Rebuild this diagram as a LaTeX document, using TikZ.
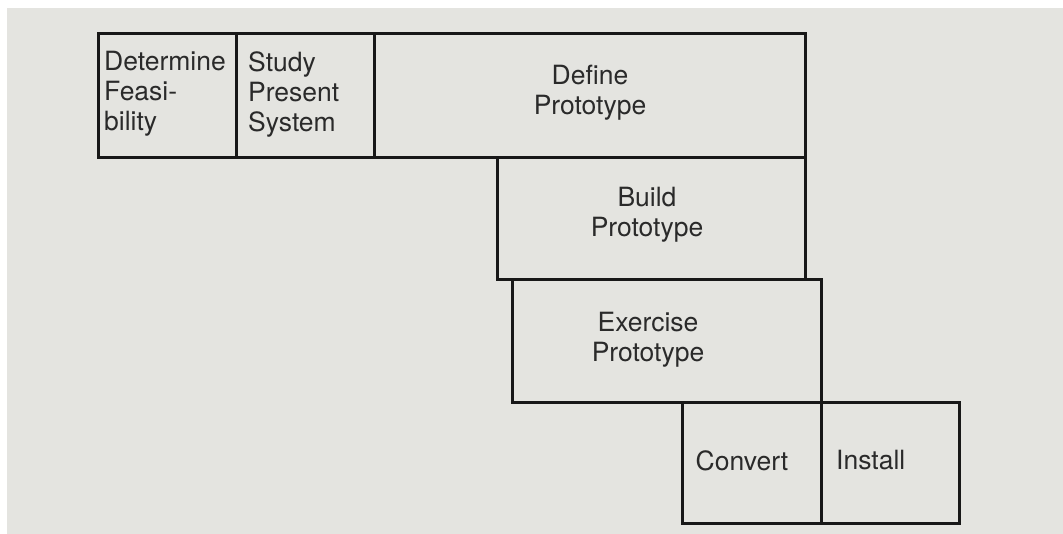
\documentclass[tikz,border=0pt]{standalone}
\usepackage{fontspec}
\setmainfont{TeX Gyre Heros}
\definecolor{paper}{HTML}{E4E4E0}
\definecolor{ink}{HTML}{181818}
\definecolor{txtc}{HTML}{2A2A2A}
\tikzset{
  box/.style={draw=ink, line width=3pt, rectangle, inner sep=0pt, anchor=north west},
  txt/.style={text=txtc, inner sep=0pt, font=\fontsize{26.5}{30}\selectfont}
}
\begin{document}
\begin{tikzpicture}[x=1pt,y=-1pt]
\useasboundingbox (0,0) rectangle (1063,534);
\fill[white] (0,0) rectangle (1063,534);
\fill[paper] (7,8) rectangle (1063,534);
% boxes
\node[box, minimum width=138pt, minimum height=124pt] (det) at (97,32) {};
\node[box, minimum width=138pt, minimum height=124pt] (stu) at (235,32) {};
\node[box, minimum width=431pt, minimum height=124pt] (def) at (373,32) {};
\node[box, minimum width=308pt, minimum height=122pt] (bld) at (496,156) {};
\node[box, minimum width=309pt, minimum height=123pt] (exe) at (511,278) {};
\node[box, minimum width=139pt, minimum height=121pt] (cnv) at (681,401) {};
\node[box, minimum width=138pt, minimum height=121pt] (ins) at (820,401) {};
% texts
\node[txt, anchor=west, align=left] (tdet) at (104,94) {Determine\\Feasi-\\bility};
\node[txt, anchor=west, align=left] (tstu) at (248,94) {Study\\Present\\System};
\node[txt, align=center] (tdef) at (590,93) {Define\\Prototype};
\node[txt, align=center] (tbld) at (647,215) {Build\\Prototype};
\node[txt, align=center] (texe) at (648,340) {Exercise\\Prototype};
\node[txt] (tcnv) at (742,461) {Convert};
\node[txt, anchor=west] (tins) at (836,460) {Install};
\end{tikzpicture}
\end{document}
